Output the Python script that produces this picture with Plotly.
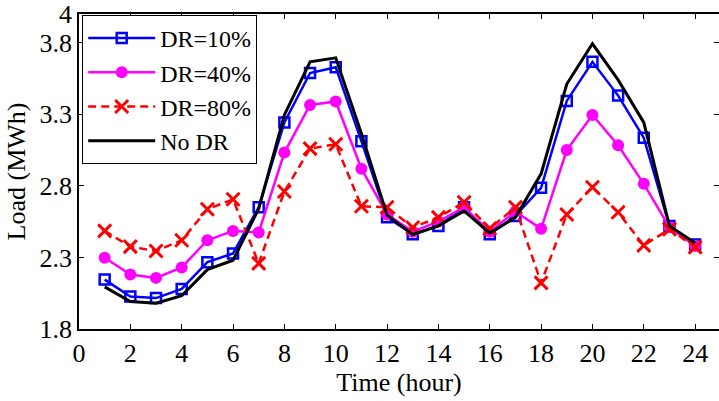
import plotly.graph_objects as go

hours = list(range(1, 25))

no_dr = [2.094, 1.992, 1.980, 2.032, 2.215, 2.280, 2.640, 3.295, 3.666, 3.694, 3.166, 2.595,
         2.460, 2.520, 2.625, 2.470, 2.580, 2.884, 3.511, 3.792, 3.540, 3.243, 2.520, 2.400]
dr10 = [2.145, 2.027, 2.016, 2.080, 2.267, 2.328, 2.650, 3.243, 3.588, 3.628, 3.112, 2.580,
        2.462, 2.520, 2.650, 2.462, 2.590, 2.786, 3.393, 3.666, 3.430, 3.135, 2.520, 2.390]
dr40 = [2.298, 2.180, 2.157, 2.230, 2.420, 2.485, 2.474, 3.032, 3.365, 3.389, 2.920, 2.600,
        2.480, 2.550, 2.650, 2.480, 2.620, 2.500, 3.050, 3.295, 3.083, 2.814, 2.510, 2.380]
dr80 = [2.485, 2.375, 2.345, 2.420, 2.636, 2.706, 2.258, 2.760, 3.060, 3.090, 2.657, 2.650,
        2.509, 2.580, 2.685, 2.502, 2.650, 2.122, 2.600, 2.790, 2.615, 2.384, 2.497, 2.372]

y_ticks = [1.8, 2.3, 2.8, 3.3, 3.8, 4]
y_tick_text = ["1.8", "2.3", "2.8", "3.3", "3.8", "4"]
x_ticks = list(range(0, 25, 2))

FONT = "Liberation Serif, Times New Roman, serif"

fig = go.Figure()
fig.add_trace(go.Scatter(
    x=hours, y=dr10, name="DR=10%", mode="lines+markers",
    line=dict(color="#0000FF", width=2.5),
    marker=dict(symbol="square-open", size=10, color="#0000FF", line=dict(width=2.5, color="#0000FF")),
))
fig.add_trace(go.Scatter(
    x=hours, y=dr40, name="DR=40%", mode="lines+markers",
    line=dict(color="#FF00FF", width=2.5),
    marker=dict(symbol="circle", size=12, color="#FF00FF"),
))
fig.add_trace(go.Scatter(
    x=hours, y=dr80, name="DR=80%", mode="lines+markers",
    line=dict(color="#FF0000", width=2.5, dash="8px,5px"),
    marker=dict(symbol="x-thin", size=13, color="#FF0000", line=dict(width=3, color="#FF0000")),
))
fig.add_trace(go.Scatter(
    x=hours, y=no_dr, name="No DR", mode="lines",
    line=dict(color="#000000", width=3),
))

fig.update_layout(
    width=719, height=401,
    margin=dict(l=79, r=0, t=14, b=72, autoexpand=False),
    paper_bgcolor="white", plot_bgcolor="white",
    font=dict(family=FONT, size=26, color="black"),
    showlegend=True,
    legend=dict(
        x=0.005, y=0.997, xanchor="left", yanchor="top",
        bgcolor="white", bordercolor="black", borderwidth=1,
        font=dict(family=FONT, size=24, color="black"),
        tracegroupgap=0, itemwidth=67,
    ),
    xaxis=dict(
        range=[0, 24.93], tickmode="array", tickvals=x_ticks,
        ticks="inside", ticklen=5, tickcolor="black", tickwidth=1,
        showline=True, linecolor="black", linewidth=1.5, mirror="ticks",
        showgrid=False, zeroline=False, automargin=False,
        ticklabeloverflow="allow",
        title=dict(text="Time (hour)", font=dict(family=FONT, size=26), standoff=6),
        tickfont=dict(family=FONT, size=26),
    ),
    yaxis=dict(
        range=[1.8, 4], tickmode="array", tickvals=y_ticks, ticktext=y_tick_text,
        ticks="inside", ticklen=5, tickcolor="black", tickwidth=1,
        showline=True, linecolor="black", linewidth=1.5, mirror="ticks",
        showgrid=False, zeroline=False, automargin=False,
        ticklabeloverflow="allow",
        title=dict(text="Load (MWh)", font=dict(family=FONT, size=26), standoff=6),
        tickfont=dict(family=FONT, size=26),
    ),
)

# remove the browser's default 8px body margin so the figure fills the window exactly
fig.write_html(
    "out.html",
    config={"displayModeBar": False},
    post_script="document.body.style.margin='0px'; document.body.style.overflow='hidden';",
)
